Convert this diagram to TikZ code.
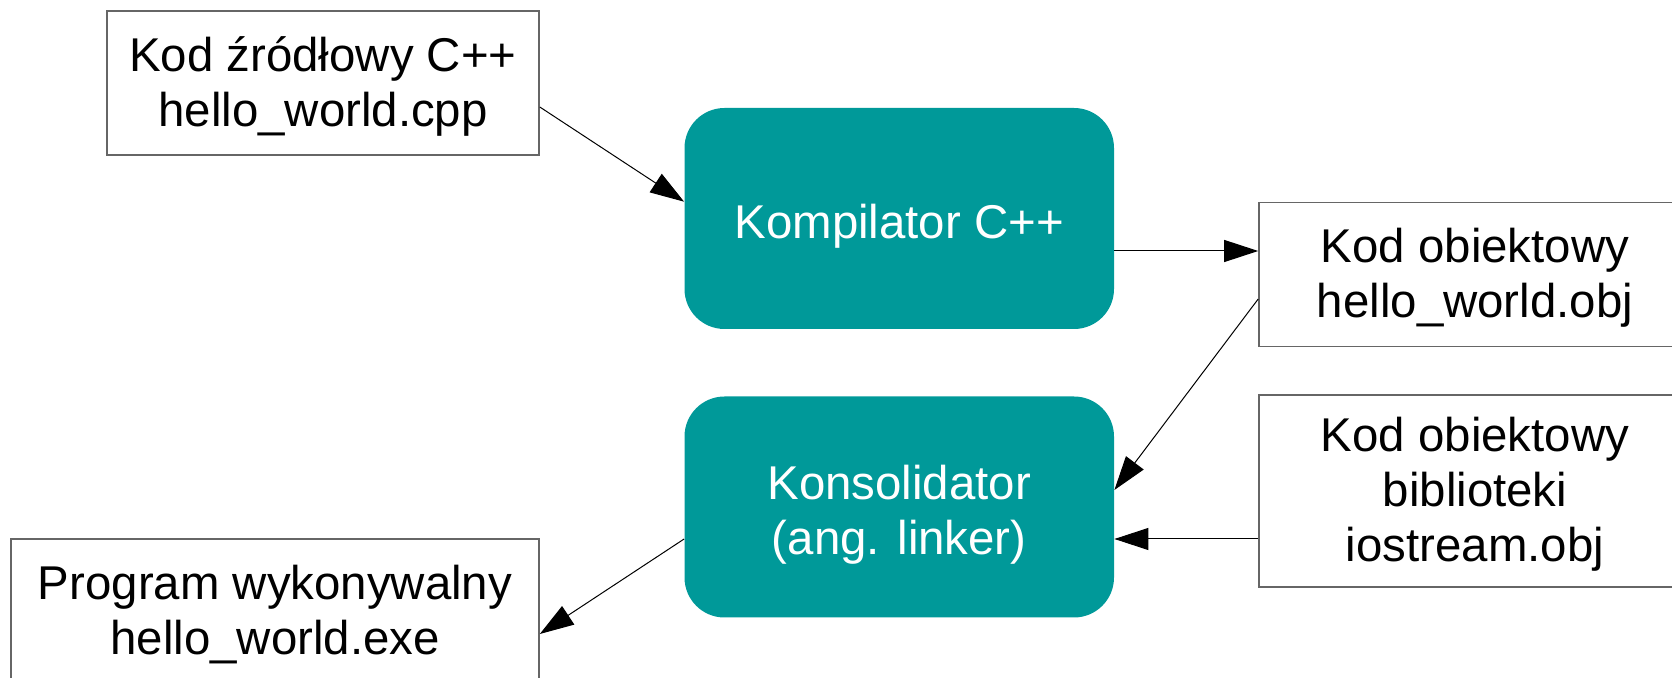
\documentclass[tikz,border=0pt]{standalone}
\usepackage{fontspec}
\setmainfont{Liberation Sans}
\usetikzlibrary{arrows.meta}
\definecolor{tealbox}{HTML}{009999}
\definecolor{boxline}{HTML}{666666}
\begin{document}
\begin{tikzpicture}[x=0.5pt, y=-0.5pt,
  every node/.style={inner sep=0pt},
  boxtext/.style={align=center, font=\fontsize{23.7}{27.5}\selectfont},
  filebox/.style={draw=boxline, line width=0.8pt, fill=white,
    minimum width=216pt, minimum height=72pt},
  filetext/.style={boxtext, yshift=-1.6pt},
  toolbox/.style={fill=tealbox, rounded corners=20pt,
    minimum width=214.75pt, minimum height=110.5pt},
  tooltext/.style={boxtext, text=white, yshift=-3.7pt},
  flow/.style={draw=black, line width=0.5pt,
    -{Triangle[length=17pt, width=11pt]}}]
  \useasboundingbox (0,0) rectangle (1672,678);

  % source and object files
  \node[filebox, label={[filetext]center:{Kod źródłowy C++\\hello\_world.cpp}}]
    (src) at (323,83) {};
  \node[filebox, label={[filetext]center:{Kod obiektowy\\hello\_world.obj}}]
    (obj) at (1475,274.7) {};
  \node[filebox, minimum height=96pt,
    label={[filetext]center:{Kod obiektowy\\biblioteki\\iostream.obj}}]
    (lib) at (1475,491) {};
  \node[filebox, minimum width=264pt,
    label={[filetext]center:{Program wykonywalny\\hello\_world.exe}}]
    (exe) at (275,611) {};

  % tools
  \node[toolbox, label={[tooltext]center:{Kompilator C++}}]
    (comp) at (899.25,218.5) {};
  \node[toolbox, label={[tooltext]center:{Konsolidator\\(ang. linker)}}]
    (link) at (899.25,507) {};

  % connectors
  \draw[flow] ([yshift=-12pt]src.east) -- ([yshift=8.4pt]comp.west);
  \draw[flow] ([yshift=-16.25pt]comp.east) -- ([yshift=-16.25pt]comp.east -| obj.west);
  \draw[flow] ([yshift=-12.15pt]obj.west) -- ([yshift=8.5pt]link.east);
  \draw[flow] ([yshift=-24pt]lib.west) -- ([yshift=-24pt]lib.west -| link.east);
  \draw[flow] ([yshift=-16pt]link.west) -- ([yshift=-11.5pt]exe.east);
\end{tikzpicture}
\end{document}
